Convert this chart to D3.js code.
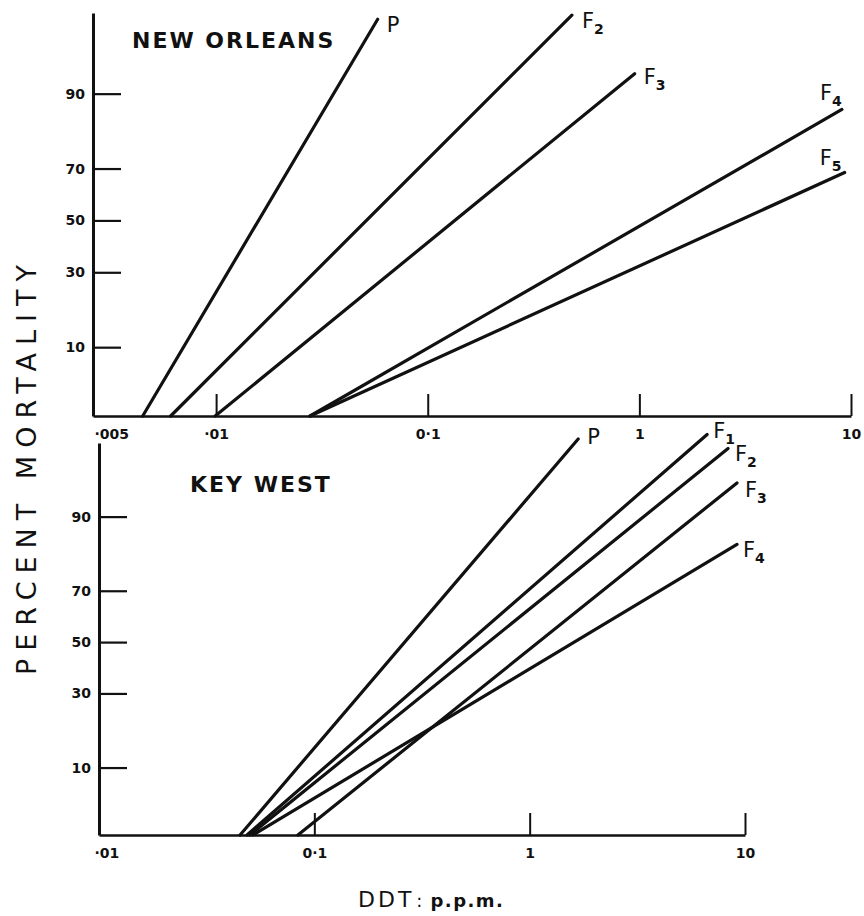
<!DOCTYPE html>
<html>
<head>
<meta charset="utf-8">
<script src="https://cdn.jsdelivr.net/npm/d3@7"></script>
<style>
  html, body { margin: 0; padding: 0; background: #fff; }
  svg { display: block; }
  text { fill: #111; }
</style>
</head>
<body>
<svg id="chart" width="864" height="916"></svg>
<script>
// ---------------- DATA ----------------
// Percent mortality tick marks (probit scale)
const yTickPct = [10, 30, 50, 70, 90];
const yTickLabels = ["10", "30", "50", "70", "90"];

// New Orleans panel (DDT p.p.m., log scale)
const orleansXTicks = [0.00262, 0.01, 0.1, 1, 10];
const orleansXLabels = ["·005", "·01", "0·1", "1", "10"];
const orleansSeries = ["P", "F2", "F3", "F4", "F5"];
const orleansDoseLow = [0.0045, 0.0061, 0.0099, 0.0278, 0.0278];
const orleansDoseHigh = [0.058, 0.48, 0.95, 9.06, 9.33];
const orleansMortLow = [2.4, 2.4, 2.4, 2.4, 2.4];
const orleansMortHigh = [97.9, 98.1, 93.1, 86.9, 68.6];

// Key West panel
const keyXTicks = [0.01, 0.1, 1, 10];
const keyXLabels = ["·01", "0·1", "1", "10"];
const keySeries = ["P", "F1", "F2", "F3", "F4"];
const keyDoseLow = [0.0452, 0.0487, 0.0502, 0.0839, 0.0519];
const keyDoseHigh = [1.68, 6.67, 8.34, 9.18, 9.18];
const keyMortLow = [2.44, 2.44, 2.44, 2.44, 2.44];
const keyMortHigh = [98.1, 98.3, 97.6, 94.8, 84.1];

// ---------------- PROBIT ----------------
function probit(p) {
  const a=[-3.969683028665376e+01,2.209460984245205e+02,-2.759285104469687e+02,1.383577518672690e+02,-3.066479806614716e+01,2.506628277459239e+00];
  const b=[-5.447609879822406e+01,1.615858368580409e+02,-1.556989798598866e+02,6.680131188771972e+01,-1.328068155288572e+01];
  const c=[-7.784894002430293e-03,-3.223964580411365e-01,-2.400758277161838e+00,-2.549732539343734e+00,4.374664141464968e+00,2.938163982698783e+00];
  const d=[7.784695709041462e-03,3.224671290700398e-01,2.445134137142996e+00,3.754408661907416e+00];
  const plow = 0.02425, phigh = 1 - plow;
  let q, r;
  if (p < plow) {
    q = Math.sqrt(-2 * Math.log(p));
    return (((((c[0]*q+c[1])*q+c[2])*q+c[3])*q+c[4])*q+c[5]) / ((((d[0]*q+d[1])*q+d[2])*q+d[3])*q+1);
  } else if (p <= phigh) {
    q = p - 0.5; r = q*q;
    return (((((a[0]*r+a[1])*r+a[2])*r+a[3])*r+a[4])*r+a[5])*q / (((((b[0]*r+b[1])*r+b[2])*r+b[3])*r+b[4])*r+1);
  } else {
    q = Math.sqrt(-2 * Math.log(1 - p));
    return -(((((c[0]*q+c[1])*q+c[2])*q+c[3])*q+c[4])*q+c[5]) / ((((d[0]*q+d[1])*q+d[2])*q+d[3])*q+1);
  }
}

// ---------------- DRAW ----------------
const svg = d3.select("#chart");
svg.append("rect").attr("width", 864).attr("height", 916).attr("fill", "#fff");

const FONT = "'DejaVu Sans', 'Open Sans', sans-serif";

function drawPanel(cfg) {
  const g = svg.append("g");
  const x = d3.scaleLog().domain(cfg.xDomain).range(cfg.xRange);
  const y = d3.scaleLinear()
    .domain([probit(cfg.yPctDomain[0] / 100), probit(cfg.yPctDomain[1] / 100)])
    .range(cfg.yRange);

  // y axis
  const yAxis = d3.axisLeft(y)
    .tickValues(yTickPct.map(p => probit(p / 100)))
    .tickFormat((dd, i) => yTickLabels[i])
    .tickSizeInner(-28).tickSizeOuter(0).tickPadding(8);
  const gy = g.append("g").attr("transform", `translate(${cfg.xRange[0]},0)`).call(yAxis);
  gy.select(".domain").attr("stroke", "#111").attr("stroke-width", 3);
  gy.selectAll(".tick line").attr("stroke", "#111").attr("stroke-width", 2.2);
  gy.selectAll(".tick text")
    .attr("font-family", FONT).attr("font-size", 14).attr("font-weight", "bold")
    .attr("fill", "#111");

  // x axis
  const xAxis = d3.axisBottom(x)
    .tickValues(cfg.xTicks)
    .tickFormat((dd, i) => cfg.xLabels[i])
    .tickSizeInner(-22).tickSizeOuter(0).tickPadding(13);
  const gx = g.append("g").attr("transform", `translate(0,${cfg.yRange[0]})`).call(xAxis);
  gx.select(".domain").attr("stroke", "#111").attr("stroke-width", 2.6);
  gx.selectAll(".tick line").attr("stroke", "#111").attr("stroke-width", 2);
  gx.selectAll(".tick text")
    .attr("font-family", FONT).attr("font-size", 14).attr("font-weight", "bold")
    .attr("fill", "#111");
  const first = gx.selectAll(".tick").filter((dd, i) => i === 0);
  first.select("text").attr("text-anchor", "start").attr("x", cfg.firstLabelDx);
  first.select("line").remove();

  // lines
  const line = d3.line().x(p => x(p.dose)).y(p => y(probit(p.pct / 100)));
  cfg.series.forEach((name, i) => {
    const pts = [
      { dose: cfg.doseLow[i], pct: cfg.mortLow[i] },
      { dose: cfg.doseHigh[i], pct: cfg.mortHigh[i] }
    ];
    g.append("path").attr("d", line(pts))
      .attr("fill", "none").attr("stroke", "#111").attr("stroke-width", 3.2)
      .attr("stroke-linecap", "round");
    const off = cfg.labelOffset[name];
    const ex = x(cfg.doseHigh[i]) + off[0];
    const ey = y(probit(cfg.mortHigh[i] / 100)) + off[1];
    const t = g.append("text").attr("x", ex).attr("y", ey)
      .attr("font-family", FONT).attr("font-size", 21).attr("fill", "#111");
    t.append("tspan").text(name[0]);
    if (name.length > 1) {
      t.append("tspan").text(name.slice(1))
        .attr("font-size", 14).attr("font-weight", "bold")
        .attr("dx", 0).attr("dy", 6);
    }
  });

  // panel title
  g.append("text").attr("x", cfg.titlePos[0]).attr("y", cfg.titlePos[1])
    .attr("font-family", FONT).attr("font-size", 22).attr("letter-spacing", 2)
    .attr("font-weight", 600).attr("fill", "#111")
    .text(cfg.title);
}

drawPanel({
  title: "NEW ORLEANS", titlePos: [132, 48],
  xDomain: [0.00262, 10], xRange: [93, 851],
  yPctDomain: [2.4, 98.2], yRange: [416, 13],
  xTicks: orleansXTicks, xLabels: orleansXLabels, firstLabelDx: 1,
  series: orleansSeries, doseLow: orleansDoseLow, doseHigh: orleansDoseHigh,
  mortLow: orleansMortLow, mortHigh: orleansMortHigh,
  labelOffset: { P: [9, 13], F2: [10, 13], F3: [9, 10], F4: [-22, -9], F5: [-25, -7] }
});

drawPanel({
  title: "KEY WEST", titlePos: [190, 492],
  xDomain: [0.01, 10], xRange: [99, 745],
  yPctDomain: [2.44, 97.9], yRange: [835, 443],
  xTicks: keyXTicks, xLabels: keyXLabels, firstLabelDx: -5,
  series: keySeries, doseLow: keyDoseLow, doseHigh: keyDoseHigh,
  mortLow: keyMortLow, mortHigh: keyMortHigh,
  labelOffset: { P: [9, 5], F1: [6, 3], F2: [7, 13], F3: [8, 14], F4: [6, 13] }
});

// y title
svg.append("text")
  .attr("transform", "translate(36,470) rotate(-90)")
  .attr("text-anchor", "middle")
  .attr("font-family", FONT).attr("font-size", 27)
  .attr("textLength", 410).attr("lengthAdjust", "spacing")
  .attr("fill", "#111")
  .text("PERCENT  MORTALITY");

// x title
const xt = svg.append("text").attr("x", 358).attr("y", 907)
  .attr("font-family", FONT).attr("fill", "#111");
xt.append("tspan").attr("font-size", 22).attr("letter-spacing", 3).text("DDT");
xt.append("tspan").attr("font-size", 18).attr("dx", 2).text(":");
xt.append("tspan").attr("font-size", 18).attr("font-weight", "bold").attr("dx", 8)
  .attr("letter-spacing", 1.5).text("p.p.m.");
</script>
</body>
</html>
